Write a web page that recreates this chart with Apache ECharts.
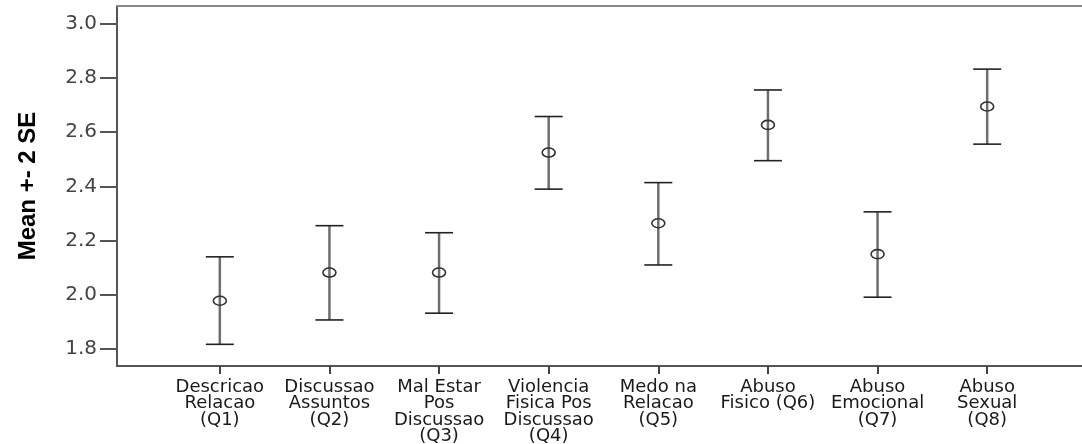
<!DOCTYPE html>
<html>
<head>
<meta charset="utf-8">
<script src="https://cdn.jsdelivr.net/npm/echarts@6/dist/echarts.min.js"></script>
<style>
html,body{margin:0;padding:0;background:#fff;}
#chart{width:1082px;height:444px;}
</style>
</head>
<body>
<div id="chart"></div>
<script>
const categories = [
  'Descricao\nRelacao\n(Q1)',
  'Discussao\nAssuntos\n(Q2)',
  'Mal Estar\nPos\nDiscussao\n(Q3)',
  'Violencia\nFisica Pos\nDiscussao\n(Q4)',
  'Medo na\nRelacao\n(Q5)',
  'Abuso\nFisico (Q6)',
  'Abuso\nEmocional\n(Q7)',
  'Abuso\nSexual\n(Q8)'
];
const means = [1.978, 2.082, 2.082, 2.525, 2.264, 2.627, 2.150, 2.695];
const lower = [1.817, 1.907, 1.932, 2.390, 2.110, 2.495, 1.991, 2.556];
const upper = [2.140, 2.255, 2.229, 2.658, 2.414, 2.756, 2.306, 2.833];
const yTicks = [1.8, 2.0, 2.2, 2.4, 2.6, 2.8, 3.0];
const yName = 'Mean +- 2 SE';
const yMin = 1.737, yMax = 3.066;

const chart = echarts.init(document.getElementById('chart'), null, {renderer: 'canvas'});

const seriesData = categories.map((c, i) => [i, lower[i], upper[i], means[i]]);

const option = {
  backgroundColor: '#ffffff',
  animation: false,
  grid: [
    {left: 117, top: 6, bottom: 78, width: 1000, outerBoundsMode: 'none', containLabel: false},
    {left: 165, top: 6, bottom: 78, width: 877, outerBoundsMode: 'none', containLabel: false}
  ],
  xAxis: [
    {type: 'value', gridIndex: 0, min: 0, max: 1, position: 'bottom',
     axisLine: {show: true, lineStyle: {color: '#555', width: 2}},
     axisTick: {show: false}, axisLabel: {show: false}, splitLine: {show: false}},
    {type: 'value', gridIndex: 0, min: 0, max: 1, position: 'top',
     axisLine: {show: true, lineStyle: {color: '#8a8a8a', width: 2}},
     axisTick: {show: false}, axisLabel: {show: false}, splitLine: {show: false}},
    {type: 'category', gridIndex: 1, data: categories, boundaryGap: true,
     axisLine: {show: false},
     axisTick: {show: true, alignWithLabel: true, length: 8, inside: false,
                lineStyle: {color: '#444', width: 2}},
     axisLabel: {interval: 0, margin: 13, color: '#1a1a1a', fontFamily: 'DejaVu Sans',
                 fontSize: 18, lineHeight: 16.5, align: 'center'},
     splitLine: {show: false}}
  ],
  yAxis: [
    {type: 'value', gridIndex: 0, min: yMin, max: yMax,
     name: yName, nameLocation: 'middle', nameGap: 77, nameRotate: 90,
     nameTextStyle: {fontFamily: 'Liberation Sans', fontWeight: 'bold', fontSize: 24, color: '#000'},
     axisLine: {show: true, lineStyle: {color: '#555', width: 2}},
     axisTick: {show: true, customValues: yTicks, length: 17, lineStyle: {color: '#555', width: 2}},
     axisLabel: {show: true, customValues: yTicks, margin: 20, color: '#444',
                 fontFamily: 'DejaVu Sans', fontSize: 20,
                 formatter: v => Number(v).toFixed(1)},
     splitLine: {show: false}},
    {type: 'value', gridIndex: 1, min: yMin, max: yMax, show: false,
     splitLine: {show: false}}
  ],
  series: [{
    type: 'custom',
    xAxisIndex: 2,
    yAxisIndex: 1,
    data: seriesData,
    renderItem: function (params, api) {
      const idx = api.value(0);
      const pLow = api.coord([idx, api.value(1)]);
      const pHigh = api.coord([idx, api.value(2)]);
      const pMean = api.coord([idx, api.value(3)]);
      const half = 14;
      return {
        type: 'group',
        children: [
          {type: 'line', shape: {x1: pLow[0], y1: pLow[1], x2: pHigh[0], y2: pHigh[1]},
           style: {stroke: '#6e6e6e', lineWidth: 2.5}},
          {type: 'line', shape: {x1: pHigh[0] - half, y1: pHigh[1], x2: pHigh[0] + half, y2: pHigh[1]},
           style: {stroke: '#222', lineWidth: 1.6}},
          {type: 'line', shape: {x1: pLow[0] - half, y1: pLow[1], x2: pLow[0] + half, y2: pLow[1]},
           style: {stroke: '#222', lineWidth: 1.6}},
          {type: 'ellipse', shape: {cx: pMean[0], cy: pMean[1], rx: 6.5, ry: 4.5},
           style: {fill: 'none', stroke: '#333', lineWidth: 1.6}}
        ]
      };
    }
  }]
};
chart.setOption(option);
</script>
</body>
</html>
